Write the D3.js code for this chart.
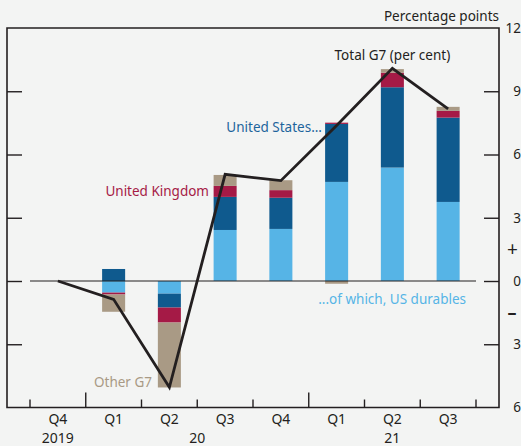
<!DOCTYPE html>
<html>
<head>
<meta charset="utf-8">
<script src="https://cdn.jsdelivr.net/npm/d3@7"></script>
<style>
  html, body { margin: 0; padding: 0; background: #f3f4f3; }
  svg { display: block; font-family: "Noto Sans", sans-serif; }
</style>
</head>
<body>
<svg id="chart" width="521" height="446"></svg>
<script>
// quarters, Q4 2019 = base
const categories = ["2019Q4", "2020Q1", "2020Q2", "2020Q3", "2020Q4", "2021Q1", "2021Q2", "2021Q3"];
const quarterLabels = ["Q4", "Q1", "Q2", "Q3", "Q4", "Q1", "Q2", "Q3"];
const years = [
  { label: "2019", from: "2019Q4", to: "2019Q4" },
  { label: "20", from: "2020Q1", to: "2020Q4" },
  { label: "21", from: "2021Q1", to: "2021Q3" }
];

// contributions, percentage points
const usDurables = [0, -0.55, -0.60, 2.42, 2.47, 4.70, 5.38, 3.75];
const usOther    = [0,  0.57, -0.66, 1.57, 1.48, 2.75, 3.81, 4.00];
const uk         = [0, -0.09, -0.71, 0.52, 0.36, 0.06, 0.69, 0.32];
const otherG7    = [0, -0.82, -3.08, 0.52, 0.47, -0.13, 0.17, 0.19];
const totalG7    = [0, -0.87, -5.04, 5.06, 4.76, 7.38, 10.09, 8.16];

const yTicks = [-6, -3, 0, 3, 6, 9, 12];

const keys = ["usDurables", "usOther", "uk", "otherG7"];
const colors = {
  usDurables: "#56b4e6",
  usOther: "#0f5a8e",
  uk: "#a51a46",
  otherG7: "#a99a85"
};

const rows = categories.map((c, i) => ({
  cat: c,
  usDurables: usDurables[i],
  usOther: usOther[i],
  uk: uk[i],
  otherG7: otherG7[i]
}));

const svg = d3.select("#chart");
const ink = "#231f20";

const frame = { left: 7, right: 499, top: 28, bottom: 407.5 };

const x = d3.scaleBand()
  .domain(categories)
  .range([30, 476])
  .paddingInner(0.587)
  .paddingOuter(0.2935);

const y = d3.scaleLinear()
  .domain([-6, 12])
  .range([frame.bottom, frame.top]);

const bw = x.bandwidth();
const step = x.step();
const cx = c => x(c) + bw / 2;

// bars
const stacked = d3.stack().keys(keys).offset(d3.stackOffsetDiverging)(rows);

svg.append("g")
  .selectAll("g")
  .data(stacked)
  .join("g")
  .attr("fill", d => colors[d.key])
  .selectAll("rect")
  .data(d => d)
  .join("rect")
  .attr("x", d => x(d.data.cat))
  .attr("width", bw)
  .attr("y", d => y(Math.max(d[0], d[1])))
  .attr("height", d => Math.abs(y(d[0]) - y(d[1])));

// zero line
svg.append("line")
  .attr("x1", x.range()[0]).attr("x2", x.range()[1])
  .attr("y1", y(0)).attr("y2", y(0))
  .attr("stroke", ink).attr("stroke-width", 1.2);

// total line
svg.append("path")
  .datum(totalG7)
  .attr("fill", "none")
  .attr("stroke", ink)
  .attr("stroke-width", 2.8)
  .attr("stroke-linejoin", "miter")
  .attr("d", d3.line().x((d, i) => cx(categories[i])).y(d => y(d)));

// frame
svg.append("path")
  .attr("d", `M${frame.left},${frame.bottom}V${frame.top}H${frame.right}V${frame.bottom}Z`)
  .attr("fill", "none")
  .attr("stroke", ink)
  .attr("stroke-width", 1.6);

// y axes
const innerTicks = yTicks.filter(t => t > -6 && t < 12);

const yRight = svg.append("g")
  .attr("transform", `translate(${frame.right},0)`)
  .call(d3.axisRight(y).tickValues(yTicks).tickSize(-15).tickPadding(0).tickFormat(d => Math.abs(d)));
yRight.select(".domain").remove();
yRight.selectAll(".tick line").filter(d => d === -6 || d === 12).remove();
yRight.selectAll(".tick line").attr("stroke", ink).attr("stroke-width", 1.4);
yRight.selectAll(".tick text")
  .attr("x", 22).attr("text-anchor", "end")
  .attr("font-size", 13.5).attr("fill", ink)
  .attr("font-family", "Noto Sans");

const yLeft = svg.append("g")
  .attr("transform", `translate(${frame.left},0)`)
  .call(d3.axisLeft(y).tickValues(innerTicks).tickSize(-15).tickFormat(""));
yLeft.select(".domain").remove();
yLeft.selectAll(".tick line").attr("stroke", ink).attr("stroke-width", 1.4);

// + / – signs
svg.append("text").attr("x", 512.5).attr("y", y(1.5)).attr("dy", "0.35em")
  .attr("text-anchor", "middle").attr("font-size", 19).attr("fill", ink).text("+");
svg.append("text").attr("x", 512).attr("y", y(-1.5)).attr("dy", "0.35em")
  .attr("text-anchor", "middle").attr("font-size", 18).attr("font-weight", "bold").attr("fill", ink).text("–");

// x axis ticks (between quarters)
const xTickG = svg.append("g");
const bounds = d3.range(categories.length + 1).map(i => x.range()[0] + i * step);
xTickG.selectAll("line")
  .data(bounds)
  .join("line")
  .attr("x1", d => d).attr("x2", d => d)
  .attr("y1", frame.bottom)
  .attr("y2", (d, i) => (i === 1 || i === 5) ? frame.bottom - 15 : frame.bottom - 8)
  .attr("stroke", ink).attr("stroke-width", 1.4);

// quarter labels
const xAxis = svg.append("g")
  .attr("transform", `translate(0,${frame.bottom})`)
  .call(d3.axisBottom(x).tickSize(0).tickPadding(7).tickFormat((d, i) => quarterLabels[i]));
xAxis.select(".domain").remove();
xAxis.selectAll(".tick text")
  .attr("font-size", 14).attr("fill", ink).attr("font-family", "Noto Sans");

// year labels
svg.append("g")
  .selectAll("text")
  .data(years)
  .join("text")
  .attr("x", d => (cx(d.from) + cx(d.to)) / 2)
  .attr("y", 443)
  .attr("text-anchor", "middle")
  .attr("font-size", 14).attr("fill", ink)
  .text(d => d.label);

// titles and series labels
const label = (t, xx, yy, color, anchor) =>
  svg.append("text").attr("x", xx).attr("y", yy)
    .attr("text-anchor", anchor || "start")
    .attr("font-size", 13.5).attr("fill", color).text(t);

label("Percentage points", 499, 21, ink, "end");
label("Total G7 (per cent)", cx("2021Q2"), 60, ink, "middle");
label("United States...", 322, 132, "#1d649c", "end");
label("United Kingdom", 209, 196, colors.uk, "end");
label("...of which, US durables", 466, 304, colors.usDurables, "end");
label("Other G7", 152, 387, colors.otherG7, "end");
</script>
</body>
</html>
